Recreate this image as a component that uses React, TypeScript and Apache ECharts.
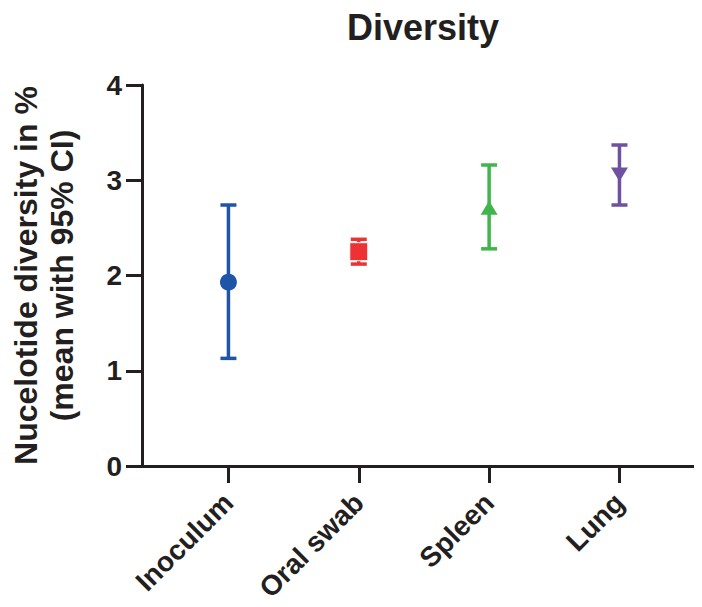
import React, { useEffect, useRef } from "react";
import * as echarts from "echarts";

const categories = ["Inoculum", "Oral swab", "Spleen", "Lung"];
const means = [1.93, 2.25, 2.71, 3.06];
const ciLow = [1.13, 2.12, 2.28, 2.74];
const ciHigh = [2.74, 2.38, 3.16, 3.37];
const yTicks = [0, 1, 2, 3, 4];
const colors = ["#1f55a6", "#ee3233", "#3fb54b", "#7050a0"];
const symbols = ["circle", "rect", "triangle", "triangle"];
const symbolRotations = [0, 0, 0, 180];
const symbolSizes: any[] = [17, 18, [17, 14], [17, 14]];

const INK = "#231f20";
const FONT = "'Liberation Sans', Arial, Helvetica, sans-serif";

export default function App() {
  const ref = useRef<HTMLDivElement>(null);
  useEffect(() => {
    if (!ref.current) return;
    const chart = echarts.init(ref.current, null, { renderer: "svg" });
    const positions = categories.map((_, i) => i + 1);
    chart.setOption({
      animation: false,
      title: {
        text: "Diversity",
        left: 418,
        top: 4,
        textAlign: "center",
        textStyle: { fontFamily: FONT, fontWeight: "bold", fontSize: 36, color: INK },
      },
      grid: { left: 132, right: 2, top: 85, bottom: 141, containLabel: false },
      xAxis: {
        type: "value",
        min: 1 - 88 / 132.7,
        max: 4 + 82 / 132.7,
        axisLine: { show: true, onZero: false, lineStyle: { color: INK, width: 3 } },
        axisTick: { show: true, length: 17, lineStyle: { color: INK, width: 3 }, customValues: positions },
        axisLabel: {
          show: true,
          customValues: positions,
          rotate: 45,
          margin: 32,
          fontFamily: FONT,
          fontWeight: "bold",
          fontSize: 28,
          color: INK,
          formatter: (v: number) => categories[Math.round(v) - 1] ?? "",
        },
        splitLine: { show: false },
      },
      yAxis: {
        type: "value",
        min: yTicks[0],
        max: yTicks[yTicks.length - 1],
        interval: 1,
        name: "Nucelotide diversity in %\n(mean with 95% CI)",
        nameLocation: "middle",
        nameGap: 62,
        nameRotate: 90,
        nameTextStyle: { fontFamily: FONT, fontWeight: "bold", fontSize: 32, color: INK, lineHeight: 36 },
        axisLine: { show: true, lineStyle: { color: INK, width: 3 } },
        axisTick: { show: true, length: 16, lineStyle: { color: INK, width: 3 } },
        axisLabel: { margin: 20, fontFamily: FONT, fontWeight: "bold", fontSize: 28, color: INK },
        splitLine: { show: false },
      },
      series: [
        {
          type: "custom",
          data: categories.map((_, i) => [positions[i], ciLow[i], ciHigh[i]]),
          renderItem: (params: any, api: any) => {
            const x = api.value(0);
            const lo = api.coord([x, api.value(1)]);
            const hi = api.coord([x, api.value(2)]);
            const c = colors[params.dataIndex];
            const hw = 8;
            const style = { stroke: c, lineWidth: 3.5 };
            return {
              type: "group",
              children: [
                { type: "line", shape: { x1: lo[0], y1: lo[1], x2: hi[0], y2: hi[1] }, style },
                { type: "line", shape: { x1: lo[0] - hw, y1: lo[1], x2: lo[0] + hw, y2: lo[1] }, style },
                { type: "line", shape: { x1: hi[0] - hw, y1: hi[1], x2: hi[0] + hw, y2: hi[1] }, style },
              ],
            };
          },
          z: 2,
        },
        {
          type: "scatter",
          z: 3,
          data: categories.map((_, i) => ({
            value: [positions[i], means[i]],
            symbol: symbols[i],
            symbolSize: symbolSizes[i],
            symbolRotate: symbolRotations[i],
            itemStyle: {
              color: colors[i],
              opacity: 1,
              borderColor: i === 1 ? "#ffffff" : colors[i],
              borderWidth: i === 1 ? 1 : 0,
            },
          })),
        },
      ],
    });
    return () => chart.dispose();
  }, []);
  return <div ref={ref} style={{ width: 702, height: 607, margin: -8 }} />;
}
